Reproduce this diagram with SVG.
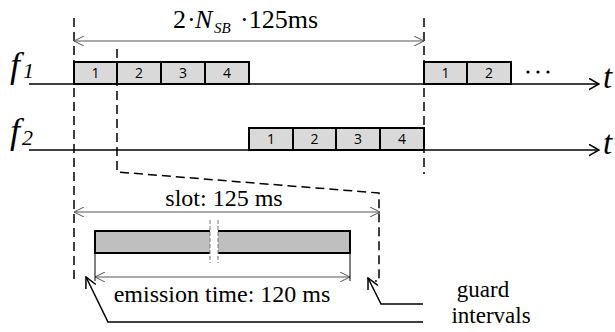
<svg xmlns="http://www.w3.org/2000/svg" width="615" height="332" viewBox="0 0 615 332">
<defs>
<style>
.serif{font-family:"Liberation Serif","Times New Roman",serif;fill:#000}
.it{font-style:italic}
.num{font-family:"Open Sans","Liberation Sans",sans-serif;font-size:14px;text-anchor:middle;fill:#000}
.box{fill:#d9d9d9;stroke:#000;stroke-width:2}
.axis{stroke:#000;stroke-width:1.5;fill:none}
.dash{stroke:#000;stroke-width:1.5;fill:none;stroke-dasharray:9,5}
.dim{stroke:#555;stroke-width:1;fill:none}
.guard{stroke:#000;stroke-width:1.5;fill:none}
</style>
<marker id="ah" viewBox="0 0 10 10" refX="10" refY="5" markerWidth="10" markerHeight="10" markerUnits="userSpaceOnUse" orient="auto-start-reverse">
<path d="M0,0 L10,5 L0,10" fill="none" stroke="#555" stroke-width="1"/>
</marker>
<marker id="axh" viewBox="0 0 11 13" refX="10.5" refY="6.5" markerWidth="11" markerHeight="13" markerUnits="userSpaceOnUse" orient="auto">
<path d="M0,0.5 L10.5,6.5 L0,12.5" fill="none" stroke="#000" stroke-width="1.5"/>
</marker>
<marker id="gh" viewBox="0 0 12 12" refX="11" refY="6" markerWidth="12" markerHeight="12" markerUnits="userSpaceOnUse" orient="auto-start-reverse">
<path d="M0,0.5 L11,6 L0,11.5" fill="none" stroke="#000" stroke-width="1.5"/>
</marker>
</defs>
<rect width="615" height="332" fill="#fff"/>

<g id="connectors">
<line class="axis" x1="29" y1="84" x2="599" y2="84" marker-end="url(#axh)"/>
<line class="axis" x1="29" y1="150" x2="599" y2="150" marker-end="url(#axh)"/>
<line class="dash" x1="74" y1="18" x2="74" y2="283"/>
<line class="dash" x1="424" y1="18" x2="424" y2="174"/>
<path class="dash" d="M117,49 V172 L379,193 V281 H375"/>
<line class="dim" x1="74" y1="41" x2="424" y2="41" marker-start="url(#ah)" marker-end="url(#ah)"/>
<line class="dim" x1="74" y1="212" x2="380" y2="212" marker-start="url(#ah)" marker-end="url(#ah)"/>
<line class="dim" x1="95" y1="277" x2="350" y2="277" marker-start="url(#ah)" marker-end="url(#ah)"/>
<line x1="95" y1="253" x2="95" y2="281" stroke="#000" stroke-width="1"/>
<line x1="350" y1="253" x2="350" y2="281" stroke="#000" stroke-width="1"/>
<polyline class="guard" points="423,322 108,322 86,277" marker-end="url(#gh)"/>
<polyline class="guard" points="423,304 381,304 368,278" marker-end="url(#gh)"/>
</g>

<g id="label-top">
<text class="serif" x="173" y="28" font-size="26">2</text>
<text class="serif" x="187" y="28" font-size="26">·</text>
<text class="serif it" x="195" y="28" font-size="26">N</text>
<text class="serif it" x="214" y="33" font-size="15">SB</text>
<text class="serif" x="240" y="28" font-size="26">·125ms</text>
</g>

<g id="f1-label">
<text class="serif it" x="10" y="77" font-size="36">f</text>
<text class="serif it" x="23" y="78" font-size="22">1</text>
</g>
<g id="f2-label">
<text class="serif it" x="10" y="143" font-size="36">f</text>
<text class="serif it" x="22" y="145" font-size="22">2</text>
</g>
<g id="t1-label"><text class="serif it" x="603" y="88" font-size="33">t</text></g>
<g id="t2-label"><text class="serif it" x="603" y="154" font-size="33">t</text></g>

<g id="f1-block1">
<rect class="box" x="74" y="62" width="43" height="22"/><text class="num" x="95.5" y="78">1</text>
<rect class="box" x="117" y="62" width="44" height="22"/><text class="num" x="139" y="78">2</text>
<rect class="box" x="161" y="62" width="44" height="22"/><text class="num" x="183" y="78">3</text>
<rect class="box" x="205" y="62" width="44" height="22"/><text class="num" x="227" y="78">4</text>
</g>
<g id="f1-block2">
<rect class="box" x="424" y="62" width="43" height="22"/><text class="num" x="445.5" y="78">1</text>
<rect class="box" x="467" y="62" width="44" height="22"/><text class="num" x="489" y="78">2</text>
</g>
<g id="ellipsis">
<circle cx="528" cy="72" r="1.6" fill="#000"/>
<circle cx="538" cy="72" r="1.6" fill="#000"/>
<circle cx="548" cy="72" r="1.6" fill="#000"/>
</g>
<g id="f2-block">
<rect class="box" x="249" y="128" width="44" height="22"/><text class="num" x="271" y="144">1</text>
<rect class="box" x="293" y="128" width="43" height="22"/><text class="num" x="314.5" y="144">2</text>
<rect class="box" x="336" y="128" width="44" height="22"/><text class="num" x="358" y="144">3</text>
<rect class="box" x="380" y="128" width="44" height="22"/><text class="num" x="402" y="144">4</text>
</g>

<g id="slot-label"><text class="serif" x="224" y="206" font-size="24" text-anchor="middle">slot: 125 ms</text></g>

<g id="emission-bar">
<rect x="95" y="231" width="255" height="22" fill="#bfbfbf" stroke="#000" stroke-width="2"/>
<rect x="210" y="229" width="8" height="26" fill="#fff"/>
<line x1="210" y1="220" x2="210" y2="263" stroke="#777" stroke-width="1" stroke-dasharray="4,2"/>
<line x1="218" y1="220" x2="218" y2="263" stroke="#777" stroke-width="1" stroke-dasharray="4,2"/>
</g>

<g id="emission-label"><text class="serif" x="222" y="302" font-size="24" text-anchor="middle">emission time: 120 ms</text></g>

<g id="guard-label">
<text class="serif" x="483" y="297" font-size="23" text-anchor="middle">guard</text>
<text class="serif" x="491" y="323" font-size="23" text-anchor="middle">intervals</text>
</g>
</svg>
